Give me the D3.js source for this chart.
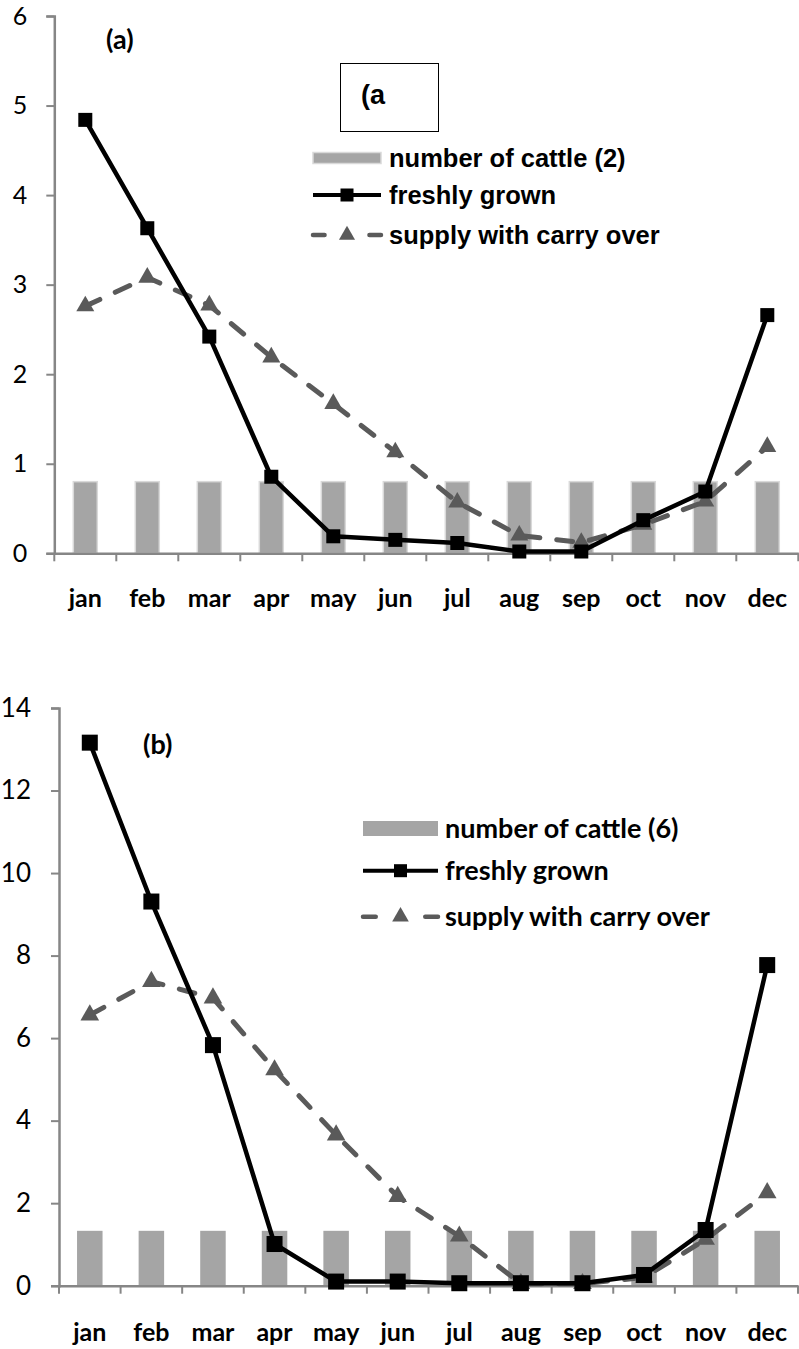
<!DOCTYPE html>
<html>
<head>
<meta charset="utf-8">
<script src="https://cdn.jsdelivr.net/npm/d3@7"></script>
<style>
  html, body { margin: 0; padding: 0; background: #fff; }
  svg { display: block; }
</style>
</head>
<body>
<svg id="chart" width="799" height="1349"></svg>
<script>
// Monthly categories shared by both panels
const months = ["jan","feb","mar","apr","may","jun","jul","aug","sep","oct","nov","dec"];

// Panel (a): 2 cattle
const cattleA = [0.8,0.8,0.8,0.8,0.8,0.8,0.8,0.8,0.8,0.8,0.8,0.8];
const freshA  = [4.84,3.63,2.42,0.855,0.19,0.15,0.115,0.02,0.02,0.37,0.69,2.66];
const supplyA = [2.76,3.08,2.77,2.19,1.67,1.13,0.57,0.2,0.12,0.32,0.58,1.19];
const ticksA  = [0,1,2,3,4,5,6];

// Panel (b): 6 cattle
const cattleB = [1.33,1.33,1.33,1.33,1.33,1.33,1.33,1.33,1.33,1.33,1.33,1.33];
const freshB  = [13.16,9.31,5.83,1.01,0.1,0.1,0.06,0.06,0.06,0.26,1.35,7.77];
const supplyB = [6.56,7.37,6.97,5.23,3.65,2.16,1.2,0.05,0.05,0.2,1.12,2.25];
const ticksB  = [0,2,4,6,8,10,12,14];

const svg = d3.select("#chart");
const AXIS = "#868686", BAR = "#a5a5a5", LINE = "#000", DASH = "#5a5a5a";
const CAL = "Lato, 'Open Sans', sans-serif";
const ARIAL = "'Liberation Sans', Arial, sans-serif";

function drawPanel(o) {
  const g = svg.append("g");
  const x = d3.scaleBand().domain(months).range([o.x0, o.x1]).paddingInner(0).paddingOuter(0);
  const y = d3.scaleLinear().domain([0, o.ymax]).range([o.yBottom, o.yTop]);
  const cx = m => x(m) + x.bandwidth() / 2;

  // bars
  g.selectAll("rect.bar").data(o.cattle).join("rect")
    .attr("class", "bar")
    .attr("x", (d, i) => cx(months[i]) - o.barW / 2)
    .attr("width", o.barW)
    .attr("y", d => y(d))
    .attr("height", d => y(0) - y(d))
    .attr("fill", BAR)
    .attr("stroke", o.barStroke || "none")
    .attr("stroke-width", 1.5);

  // y axis
  const ya = g.append("g").attr("transform", `translate(${o.x0},0)`)
    .call(d3.axisLeft(y).tickValues(o.ticks).tickSize(8).tickPadding(o.yPad).tickFormat(d3.format("d")));
  ya.select(".domain").attr("stroke", AXIS).attr("stroke-width", 2.5);
  ya.selectAll(".tick line").attr("stroke", AXIS).attr("stroke-width", 2);
  ya.selectAll(".tick text").attr("fill", "#000")
    .style("font-family", CAL).style("font-size", o.yFont + "px");

  // x axis
  const xa = g.append("g").attr("transform", `translate(0,${o.yBottom})`)
    .call(d3.axisBottom(x).tickSize(0).tickPadding(o.xPad));
  xa.select(".domain").attr("stroke", AXIS).attr("stroke-width", 2.5);
  xa.selectAll(".tick text").attr("fill", "#000")
    .style("font-family", CAL).style("font-size", "25px").style("font-weight", "bold");
  // category boundary ticks
  g.selectAll("line.xt").data(d3.range(months.length + 1)).join("line")
    .attr("x1", i => o.x0 + i * x.bandwidth()).attr("x2", i => o.x0 + i * x.bandwidth())
    .attr("y1", o.yBottom).attr("y2", o.yBottom + 8)
    .attr("stroke", AXIS).attr("stroke-width", 2);

  // supply with carry over (dashed, triangles)
  const lineGen = d3.line().x((d, i) => cx(months[i])).y(d => y(d));
  g.append("path").datum(o.supply).attr("d", lineGen)
    .attr("fill", "none").attr("stroke", DASH).attr("stroke-width", 5)
    .attr("stroke-dasharray", "16,17").attr("stroke-linecap", "round");
  const tri = d3.symbol().type(d3.symbolTriangle).size(o.triSize);
  g.selectAll("path.tri").data(o.supply).join("path")
    .attr("class", "tri")
    .attr("d", tri)
    .attr("transform", (d, i) => `translate(${cx(months[i])},${y(d)})`)
    .attr("fill", DASH);

  // freshly grown (solid, squares)
  g.append("path").datum(o.fresh).attr("d", lineGen)
    .attr("fill", "none").attr("stroke", LINE).attr("stroke-width", 4.5)
    .attr("stroke-linejoin", "round");
  g.selectAll("rect.sq").data(o.fresh).join("rect")
    .attr("class", "sq")
    .attr("x", (d, i) => cx(months[i]) - o.sq / 2)
    .attr("y", d => y(d) - o.sq / 2)
    .attr("width", o.sq).attr("height", o.sq)
    .attr("fill", LINE);

  // panel label
  g.append("text").attr("x", o.labelX).attr("y", o.labelY).text(o.label)
    .style("font-family", CAL).style("font-weight", "bold").style("font-size", "27px");

  // legend
  const L = o.legend;
  const lg = g.append("g").style("font-family", L.font).style("font-weight", "bold").style("font-size", L.size + "px");
  const sw0 = L.x, sw1 = L.x + L.w, swm = (sw0 + sw1) / 2;
  lg.append("rect").attr("x", sw0).attr("y", L.rows[0] - L.barH / 2).attr("width", L.w).attr("height", L.barH)
    .attr("fill", BAR).attr("stroke", o.barStroke || "none").attr("stroke-width", 1.5);
  lg.append("line").attr("x1", sw0).attr("x2", sw1).attr("y1", L.rows[1]).attr("y2", L.rows[1])
    .attr("stroke", LINE).attr("stroke-width", 4);
  lg.append("rect").attr("x", swm - L.sq / 2).attr("y", L.rows[1] - L.sq / 2).attr("width", L.sq).attr("height", L.sq).attr("fill", LINE);
  lg.append("line").attr("x1", sw0).attr("x2", sw1).attr("y1", L.rows[2]).attr("y2", L.rows[2])
    .attr("stroke", DASH).attr("stroke-width", 4.5).attr("stroke-linecap", "round")
    .attr("stroke-dasharray", `${L.w * 0.17},${L.w * 0.66}`);
  lg.append("path").attr("d", d3.symbol().type(d3.symbolTriangle).size(o.triSize * 0.8))
    .attr("transform", `translate(${swm},${L.rows[2]})`).attr("fill", DASH);
  L.texts.forEach((t, i) => {
    lg.append("text").attr("x", L.tx).attr("y", L.rows[i]).attr("dy", "0.36em").text(t);
  });
  return g;
}

drawPanel({
  x0: 54.3, x1: 798.3, yTop: 16, yBottom: 553.3, ymax: 6, ticks: ticksA, yPad: 19, yFont: 25, xPad: 36,
  cattle: cattleA, fresh: freshA, supply: supplyA,
  barW: 24, barStroke: "#d9d9d9", sq: 14, triSize: 140,
  label: "(a)", labelX: 106, labelY: 49,
  legend: {
    x: 313, w: 68, barH: 11, sq: 13, tx: 389, rows: [158, 195, 235],
    font: ARIAL, size: 25.5,
    texts: ["number of cattle (2)", "freshly grown", "supply with carry over"]
  }
});

// boxed inset label in panel (a)
svg.append("rect").attr("x", 340.5).attr("y", 63.5).attr("width", 98).attr("height", 68)
  .attr("fill", "#fff").attr("stroke", "#000").attr("stroke-width", 1);
svg.append("text").attr("x", 361).attr("y", 104).text("(a")
  .style("font-family", ARIAL).style("font-weight", "bold").style("font-size", "27px");

drawPanel({
  x0: 59, x1: 798, yTop: 708, yBottom: 1285.7, ymax: 14, ticks: ticksB, yPad: 20, yFont: 26, xPad: 38,
  cattle: cattleB, fresh: freshB, supply: supplyB,
  barW: 25.5, barStroke: null, sq: 16, triSize: 150,
  label: "(b)", labelX: 143, labelY: 754,
  legend: {
    x: 363, w: 75, barH: 15, sq: 13, tx: 445, rows: [828.5, 870.7, 916.7],
    font: CAL, size: 27,
    texts: ["number of cattle (6)", "freshly grown", "supply with carry over"]
  }
});
</script>
</body>
</html>
